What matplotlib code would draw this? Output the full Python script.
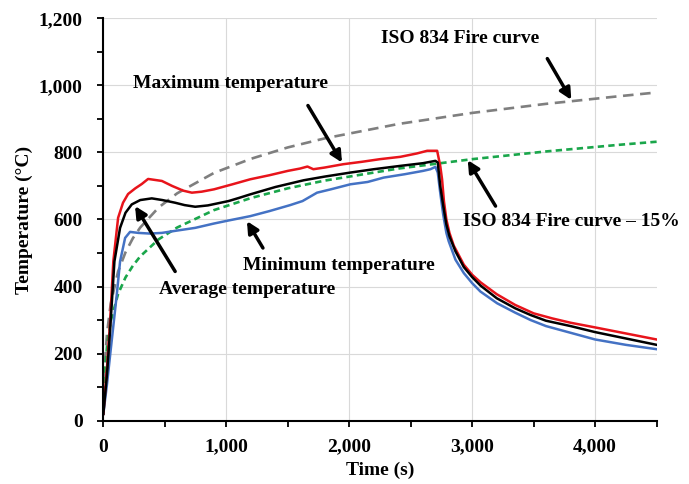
import matplotlib
matplotlib.use('Agg')
import matplotlib.pyplot as plt
from matplotlib.ticker import FuncFormatter, MultipleLocator

plt.rcParams['font.family'] = ['Liberation Serif', 'DejaVu Serif']
plt.rcParams['font.weight'] = 'bold'

# ISO 834 standard fire curve and the 85% curve
t_iso = [0, 15, 30, 60, 120, 180, 240, 300, 450, 600, 900, 1200, 1500, 1800,
         2400, 3000, 3600, 4200, 4500]
T_iso = [20, 185, 261, 349, 445, 502, 544, 576, 636, 678, 739, 781, 815, 842,
         885, 918, 945, 968, 979]
T_iso85 = [17, 157, 222, 297, 378, 427, 462, 490, 541, 576, 628, 664, 693, 716,
           752, 780, 803, 823, 832]

# maximum temperature
t_max = [0, 30, 55, 81, 120, 160, 201, 260, 313, 364, 420, 476, 560, 650, 720,
         800, 900, 1050, 1195, 1350, 1500, 1600, 1660, 1708, 1800, 1952, 2100,
         2250, 2416, 2550, 2634, 2715, 2740, 2755, 2770, 2790, 2815, 2850, 2932,
         3000, 3070, 3200, 3350, 3500, 3650, 3800, 4000, 4250, 4500]
T_max = [20, 160, 295, 475, 605, 650, 676, 693, 706, 721, 718, 715, 700, 686, 680,
         683, 690, 705, 720, 732, 745, 752, 758, 750, 755, 765, 772,
         780, 787, 797, 805, 805, 760, 720, 655, 600, 560, 522, 465,
         435, 412, 377, 345, 320, 305, 292, 278, 260, 242]

# average temperature
t_avg = [0, 30, 55, 90, 136, 180, 231, 300, 394, 480, 584, 660, 747, 850, 1018,
         1100, 1195, 1400, 1629, 1800, 2009, 2200, 2416, 2600, 2701, 2720, 2740,
         2765, 2790, 2815, 2864, 2932, 3000, 3067, 3200, 3350, 3475, 3600, 3800,
         4000, 4250, 4500]
T_avg = [20, 140, 270, 475, 575, 620, 645, 658, 663, 658, 650, 643, 638, 642, 655,
         664, 675, 697, 717, 728, 740, 750, 760, 768, 775, 770, 700,
         640, 585, 550, 505, 458, 428, 403, 365, 335, 315, 298, 282,
         264, 245, 226]

# minimum temperature
t_min = [0, 30, 55, 109, 136, 177, 217, 285, 380, 476, 600, 747, 900, 1018, 1100,
         1195, 1350, 1520, 1620, 1738, 1850, 2009, 2150, 2280, 2450, 2600, 2660,
         2701, 2720, 2740, 2764, 2790, 2809, 2864, 2932, 3000, 3067, 3203, 3350,
         3475, 3600, 3800, 4000, 4250, 4500]
T_min = [20, 110, 195, 375, 475, 545, 563, 560, 558, 560, 567, 575, 588, 597, 603,
         610, 625, 643, 655, 680, 690, 705, 712, 725, 735, 745, 750,
         757, 740, 680, 615, 560, 535, 480, 440, 410, 385, 350, 322,
         300, 282, 262, 242, 226, 213]

fig = plt.figure(figsize=(6.89, 4.84), dpi=100)
ax = fig.add_axes([0.15, 0.131, 0.803, 0.831])

ax.plot(t_iso, T_iso, color='#7f7f7f', lw=1.9, linestyle=(0, (4, 2.5)))
ax.plot(t_iso, T_iso85, color='#1aa64b', lw=1.9, linestyle=(0, (2.4, 1.6)))
ax.plot(t_min, T_min, color='#4472c4', lw=1.8)
ax.plot(t_max, T_max, color='#e8141b', lw=1.8)
ax.plot(t_avg, T_avg, color='black', lw=1.8)

ax.set_xlim(0, 4500)
ax.set_ylim(0, 1200)
ax.xaxis.set_major_locator(MultipleLocator(1000))
ax.xaxis.set_minor_locator(MultipleLocator(500))
ax.yaxis.set_major_locator(MultipleLocator(200))
ax.yaxis.set_minor_locator(MultipleLocator(100))
fmt = FuncFormatter(lambda v, p: '{:,.0f}'.format(v))
ax.xaxis.set_major_formatter(fmt)
ax.yaxis.set_major_formatter(fmt)
ax.grid(True, which='major', color='#d9d9d9', lw=0.8)
ax.set_axisbelow(True)
ax.spines['top'].set_visible(False)
ax.spines['right'].set_visible(False)
ax.spines['left'].set_linewidth(1.5)
ax.spines['bottom'].set_linewidth(1.5)
ax.tick_params(which='both', direction='out', length=4, width=1.3)
ax.tick_params(axis='y', labelsize=14, pad=11)
ax.tick_params(axis='x', labelsize=14, pad=9)
for lab in ax.get_xticklabels() + ax.get_yticklabels():
    lab.set_fontweight('bold')

ax.set_xlabel('Time (s)', fontsize=14, fontweight='bold', labelpad=4)
ax.set_ylabel('Temperature (°C)', fontsize=14, fontweight='bold', labelpad=4)

arrow = dict(arrowstyle='-|>', color='black', lw=2.5, mutation_scale=17,
             shrinkA=0, shrinkB=0)
txt = dict(fontsize=14, fontweight='bold', ha='center', va='center')

ax.text(1032, 1006, 'Maximum temperature', **txt)
ax.annotate('', xy=(1941, 770), xytext=(1664, 940), arrowprops=arrow)

ax.text(2904, 1141, 'ISO 834 Fire curve', **txt)
ax.annotate('', xy=(3806, 957), xytext=(3611, 1080), arrowprops=arrow)

ax.text(3809, 593, 'ISO 834 Fire curve – 15%', **txt)
ax.annotate('', xy=(2964, 777), xytext=(3190, 640), arrowprops=arrow)

ax.text(1919, 463, 'Minimum temperature', **txt)
ax.annotate('', xy=(1168, 595), xytext=(1298, 515), arrowprops=arrow)

ax.text(1168, 391, 'Average temperature', **txt)
ax.annotate('', xy=(258, 640), xytext=(584, 445), arrowprops=arrow)

fig.savefig('out.png', dpi=100)
